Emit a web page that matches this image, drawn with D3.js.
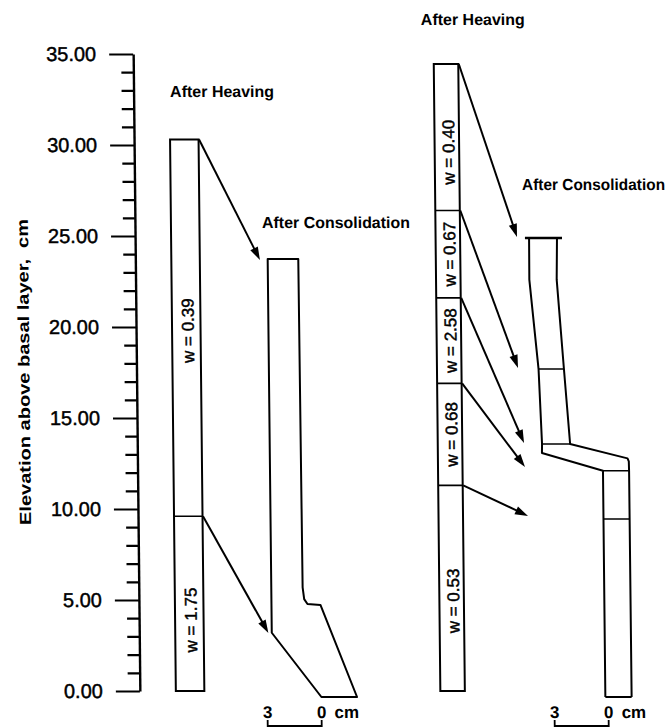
<!DOCTYPE html>
<html>
<head>
<meta charset="utf-8">
<script src="https://cdn.jsdelivr.net/npm/d3@7"></script>
<style>
  html, body { margin: 0; padding: 0; background: #fff; }
  svg { display: block; }
  text { font-family: "Liberation Sans", Arial, Helvetica, sans-serif; fill: #000; }
  .heavy { stroke: #000; stroke-width: 0.45px; }
</style>
</head>
<body>
<svg id="chart" width="672" height="728"></svg>
<script>
// ---- Data (all values in cm) ----
// Elevation axis ticks
const majorTicks = [0, 5, 10, 15, 20, 25, 30, 35];
const minorTicks = d3.range(0, 35).filter(v => v % 5 !== 0);

// Column 1, after heaving: layer boundaries (elevation) and water contents
const heaveLeftBounds = [0, 9.6, 30.3];
const heaveLeftW = ["1.75", "0.39"];

// Column 2, after heaving
const heaveRightBounds = [0, 11.3, 16.9, 21.6, 26.4, 34.45];
const heaveRightW = ["0.53", "0.68", "2.58", "0.67", "0.40"];

// Column 1, after consolidation: outline as [displacement, elevation]
const consolLeftOutline = [
  [2.73, 23.74], [2.72, 3.2], [0, -0.33], [-1.98, -0.33], [0, 4.73],
  [0.72, 4.78], [0.9, 5.05], [0.98, 5.7], [1.03, 23.74]
];

// Column 2, after consolidation: left and right outlines [displacement, elevation]
const consolRightLeftEdge = [
  [4.14, 24.89], [4.15, 22.6], [3.69, 17.69], [3.54, 13.57], [3.55, 13.08],
  [0.17, 12.1], [0.17, -0.33]
];
const consolRightRightEdge = [
  [2.59, 24.89], [2.63, 22.6], [2.28, 17.69], [1.98, 13.57], [-1.2, 12.78],
  [-1.27, 12.62], [-1.28, 12.1], [-1.29, -0.33]
];
const consolRightTop = { elev: 24.89, from: 4.37, to: 2.31 };
const consolRightDividers = [
  { elev: 17.69, from: 3.69, to: 2.28 },
  { elev: 13.57, from: 3.54, to: 1.98 },
  { elev: 12.1, from: 0.17, to: -1.28 },
  { elev: 9.45, from: 0.17, to: -1.28 }
];

// Arrows: layer boundary after heaving -> its position after consolidation
const arrowsLeft = [
  { from: 30.3, toDisp: 3.16, toElev: 23.68 },
  { from: 9.6, toDisp: 2.91, toElev: 3.19 }
];
const arrowsRight = [
  { from: 34.45, toDisp: 4.81, toElev: 24.95 },
  { from: 26.4, toDisp: 4.83, toElev: 17.75 },
  { from: 21.6, toDisp: 4.54, toElev: 13.63 },
  { from: 16.9, toDisp: 4.5, toElev: 12.31 },
  { from: 11.3, toDisp: 4.36, toElev: 9.62 }
];

// Scale bar values
const scaleBarCm = [3, 0];

// ---- Layout ----
const SHEAR = 0.0105;
const AXIS_X = 136.5;
const COL_LEFT = [172.5, 201];
const COL_RIGHT = [437, 461.5];
const LABEL_ELEV_LEFT = [3.9, 19.8];
const LABEL_ELEV_RIGHT = [4.95, 14.1, 19.25, 24.0, 29.6];
const BAR_Y = 726;

const svg = d3.select("#chart");
const root = svg.append("g")
  .attr("transform", `matrix(1,0,${SHEAR},1,${-SHEAR * 372},0)`);

const y = d3.scaleLinear().domain([0, 35]).range([691, 54]);
// horizontal displacement scales (cm), one per panel
const xL = d3.scaleLinear().domain([0, 3]).range([318, 264]);
const xR = d3.scaleLinear().domain([0, 3]).range([605, 551]);

// ---- Elevation axis ----
const gMajor = root.append("g")
  .attr("transform", `translate(${AXIS_X},0)`)
  .call(d3.axisLeft(y).tickValues(majorTicks).tickSize(24).tickPadding(13)
    .tickSizeOuter(0).tickFormat(d3.format(".2f")));
gMajor.attr("font-size", 20).attr("font-family", "'Liberation Sans', Arial, sans-serif");
gMajor.selectAll("text").attr("fill", "#000").attr("class", "heavy");
gMajor.selectAll("line").attr("stroke", "#000").attr("stroke-width", 2.2);
gMajor.select(".domain").attr("stroke", "#000").attr("stroke-width", 2.4);

const gMinor = root.append("g")
  .attr("transform", `translate(${AXIS_X},0)`)
  .call(d3.axisLeft(y).tickValues(minorTicks).tickSize(12).tickFormat(() => ""));
gMinor.select(".domain").remove();
gMinor.selectAll("line").attr("stroke", "#000").attr("stroke-width", 2.2);

root.append("text")
  .attr("transform", "translate(24,372) rotate(-90)")
  .attr("text-anchor", "middle")
  .attr("dominant-baseline", "central")
  .attr("font-size", 16)
  .attr("font-weight", "bold")
  .attr("textLength", 306)
  .attr("lengthAdjust", "spacingAndGlyphs")
  .style("white-space", "pre")
  .text("Elevation above basal layer,  cm");

// ---- Heaved columns ----
function drawHeaved(bounds, labels, cols, labelElev) {
  const g = root.append("g");
  const top = bounds[bounds.length - 1];
  g.append("rect")
    .attr("x", cols[0]).attr("y", y(top))
    .attr("width", cols[1] - cols[0]).attr("height", y(0) - y(top))
    .attr("fill", "none").attr("stroke", "#000").attr("stroke-width", 2);
  g.selectAll("line.div").data(bounds.slice(1, -1)).join("line")
    .attr("x1", cols[0]).attr("x2", cols[1])
    .attr("y1", d => y(d)).attr("y2", d => y(d))
    .attr("stroke", "#000").attr("stroke-width", 1.6);
  const cx = (cols[0] + cols[1]) / 2 + 2;
  g.selectAll("text.w").data(labels).join("text")
    .attr("class", "heavy")
    .attr("transform", (d, i) => `translate(${cx},${y(labelElev[i])}) rotate(-90)`)
    .attr("text-anchor", "middle")
    .attr("dominant-baseline", "central")
    .attr("font-size", 17)
    .text(d => `w = ${d}`);
}
drawHeaved(heaveLeftBounds, heaveLeftW, COL_LEFT, LABEL_ELEV_LEFT);
drawHeaved(heaveRightBounds, heaveRightW, COL_RIGHT, LABEL_ELEV_RIGHT);

// ---- Consolidated columns ----
const lineL = d3.line().x(d => xL(d[0])).y(d => y(d[1]));
const lineR = d3.line().x(d => xR(d[0])).y(d => y(d[1]));

root.append("path")
  .attr("d", lineL(consolLeftOutline) + "Z")
  .attr("fill", "none").attr("stroke", "#000").attr("stroke-width", 2)
  .attr("stroke-linejoin", "round");

const gR = root.append("g").attr("fill", "none").attr("stroke", "#000");
gR.append("path").attr("d", lineR(consolRightLeftEdge)).attr("stroke-width", 2).attr("stroke-linejoin", "round");
gR.append("path").attr("d", lineR(consolRightRightEdge)).attr("stroke-width", 2).attr("stroke-linejoin", "round");
gR.append("line")
  .attr("x1", xR(consolRightTop.from)).attr("x2", xR(consolRightTop.to))
  .attr("y1", y(consolRightTop.elev)).attr("y2", y(consolRightTop.elev))
  .attr("stroke-width", 2.6);
gR.append("line")
  .attr("x1", xR(consolRightLeftEdge[consolRightLeftEdge.length - 1][0]))
  .attr("x2", xR(consolRightRightEdge[consolRightRightEdge.length - 1][0]))
  .attr("y1", y(-0.33)).attr("y2", y(-0.33))
  .attr("stroke-width", 2);
gR.selectAll("line.div").data(consolRightDividers).join("line")
  .attr("x1", d => xR(d.from)).attr("x2", d => xR(d.to))
  .attr("y1", d => y(d.elev)).attr("y2", d => y(d.elev))
  .attr("stroke-width", 1.6);

// ---- Arrows ----
function drawArrow(x0, y0, x1, y1) {
  const ang = Math.atan2(y1 - y0, x1 - x0);
  const L = 13, W = 4.2;
  const bx = x1 - L * Math.cos(ang), by = y1 - L * Math.sin(ang);
  const px = -Math.sin(ang) * W, py = Math.cos(ang) * W;
  root.append("line")
    .attr("x1", x0).attr("y1", y0).attr("x2", bx + 2 * Math.cos(ang)).attr("y2", by + 2 * Math.sin(ang))
    .attr("stroke", "#000").attr("stroke-width", 2);
  root.append("path")
    .attr("d", `M${x1},${y1}L${bx + px},${by + py}L${bx - px},${by - py}Z`)
    .attr("fill", "#000");
}
arrowsLeft.forEach(a => drawArrow(COL_LEFT[1] + 0.5, y(a.from), xL(a.toDisp), y(a.toElev)));
arrowsRight.forEach(a => drawArrow(COL_RIGHT[1] + 0.5, y(a.from), xR(a.toDisp), y(a.toElev)));

// ---- Titles ----
const titles = [
  { t: "After Heaving", x: 173, y: 97, len: 104 },
  { t: "After Consolidation", x: 263.5, y: 228, len: 148 },
  { t: "After Heaving", x: 424.5, y: 25, len: 104 },
  { t: "After Consolidation", x: 524, y: 190, len: 143 }
];
root.selectAll("text.title").data(titles).join("text")
  .attr("x", d => d.x).attr("y", d => d.y)
  .attr("font-size", 16).attr("font-weight", "bold")
  .attr("textLength", d => d.len)
  .attr("lengthAdjust", "spacingAndGlyphs")
  .text(d => d.t);

// ---- Scale bars ----
function drawBar(xs) {
  const g = root.append("g");
  g.append("path")
    .attr("d", `M${xs(3)},${BAR_Y - 6}V${BAR_Y}H${xs(0)}V${BAR_Y - 6}`)
    .attr("fill", "none").attr("stroke", "#000").attr("stroke-width", 1.8);
  g.selectAll("text.n").data(scaleBarCm).join("text")
    .attr("x", d => xs(d)).attr("y", BAR_Y - 8)
    .attr("text-anchor", "middle")
    .attr("font-size", 17).attr("font-weight", "bold")
    .text(d => d);
  g.append("text")
    .attr("x", xs(0) + 13).attr("y", BAR_Y - 8)
    .attr("font-size", 17).attr("font-weight", "bold")
    .text("cm");
}
drawBar(xL);
drawBar(xR);
</script>
</body>
</html>
